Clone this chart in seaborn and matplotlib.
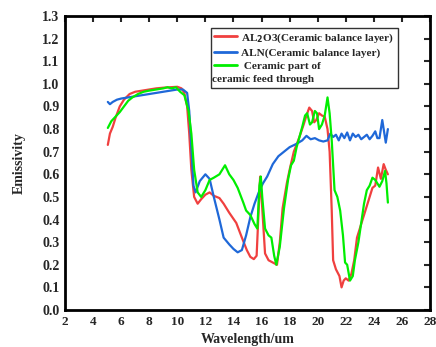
import numpy as np
import pandas as pd
import matplotlib
matplotlib.use("Agg")
import matplotlib.pyplot as plt
import seaborn as sns
from matplotlib.lines import Line2D

# ---- data ----
al2o3_wl = [5.05, 5.2, 5.4, 5.6, 5.9, 6.2, 6.6, 7.0, 7.5, 8.0, 8.5, 9.0, 9.5, 10.0, 10.3, 10.5, 10.7, 10.85,
            11.0, 11.2, 11.45, 11.7, 12.0, 12.3, 12.6, 13.0, 13.3, 13.7, 14.2, 14.6, 14.95, 15.2, 15.45, 15.65,
            15.8, 15.9, 16.05, 16.25, 16.5, 16.8, 17.1, 17.3, 17.5, 17.8, 18.0, 18.3, 18.7, 19.0, 19.2, 19.4,
            19.6, 19.75, 19.9, 20.1, 20.3, 20.5, 20.7, 20.85, 21.0, 21.1, 21.3, 21.55, 21.7, 21.85, 22.0, 22.2,
            22.4, 22.6, 22.8, 23.0, 23.3, 23.6, 23.9, 24.1, 24.3, 24.5, 24.7, 24.85, 25.0]
al2o3_em = [0.73, 0.78, 0.81, 0.85, 0.90, 0.93, 0.955, 0.965, 0.97, 0.975, 0.98, 0.983, 0.985, 0.987, 0.98, 0.96,
            0.90, 0.78, 0.62, 0.50, 0.47, 0.49, 0.51, 0.52, 0.505, 0.495, 0.47, 0.43, 0.385, 0.32, 0.265, 0.235,
            0.225, 0.24, 0.45, 0.59, 0.45, 0.25, 0.22, 0.21, 0.20, 0.30, 0.45, 0.56, 0.62, 0.70, 0.765, 0.82, 0.86,
            0.895, 0.88, 0.83, 0.84, 0.87, 0.86, 0.855, 0.80, 0.70, 0.44, 0.22, 0.18, 0.15, 0.10, 0.13, 0.14, 0.13,
            0.16, 0.22, 0.32, 0.36, 0.42, 0.48, 0.54, 0.55, 0.63, 0.58, 0.645, 0.62, 0.60]

aln_wl = [5.05, 5.2, 5.4, 5.7, 6.0, 6.5, 7.0, 7.5, 8.0, 8.5, 9.0, 9.5, 10.0, 10.4, 10.7, 10.85, 11.0, 11.15, 11.3,
          11.6, 12.0, 12.3, 12.6, 13.0, 13.3, 13.7, 14.0, 14.3, 14.6, 14.9, 15.2, 15.5, 15.8, 16.1, 16.4, 16.8,
          17.2, 17.6, 18.0, 18.5, 18.9, 19.2, 19.5, 19.8, 20.1, 20.4, 20.7, 20.9, 21.1, 21.3, 21.5, 21.7, 21.9,
          22.1, 22.3, 22.5, 22.7, 22.9, 23.1, 23.3, 23.5, 23.7, 23.9, 24.1, 24.25, 24.4, 24.6, 24.75, 24.85, 25.0]
aln_em = [0.92, 0.91, 0.92, 0.93, 0.935, 0.94, 0.945, 0.95, 0.955, 0.96, 0.965, 0.97, 0.975, 0.975, 0.96, 0.88,
          0.72, 0.55, 0.52, 0.57, 0.60, 0.58, 0.50, 0.40, 0.32, 0.29, 0.27, 0.255, 0.265, 0.33, 0.41, 0.47, 0.52,
          0.56, 0.59, 0.645, 0.68, 0.70, 0.72, 0.735, 0.75, 0.77, 0.755, 0.76, 0.75, 0.745, 0.75, 0.78, 0.765,
          0.775, 0.75, 0.78, 0.76, 0.785, 0.75, 0.78, 0.765, 0.775, 0.755, 0.765, 0.775, 0.755, 0.77, 0.79, 0.76,
          0.76, 0.84, 0.78, 0.74, 0.80]

feed_wl = [5.05, 5.3, 5.6, 5.9, 6.2, 6.5, 6.8, 7.2, 7.6, 8.0, 8.5, 9.0, 9.3, 9.6, 9.9, 10.2, 10.5, 10.8, 11.0,
           11.2, 11.45, 11.7, 12.0, 12.3, 12.6, 13.0, 13.4, 13.7, 14.0, 14.3, 14.7, 14.9, 15.2, 15.5, 15.7, 15.85,
           15.95, 16.05, 16.25, 16.5, 16.7, 16.9, 17.05, 17.3, 17.6, 17.9, 18.1, 18.3, 18.5, 18.7, 18.9, 19.1,
           19.25, 19.45, 19.6, 19.8, 19.95, 20.1, 20.3, 20.5, 20.7, 20.85, 21.0, 21.2, 21.4, 21.6, 21.8, 21.95,
           22.1, 22.3, 22.5, 22.65, 22.9, 23.1, 23.3, 23.5, 23.7, 23.9, 24.1, 24.4, 24.6, 24.8, 24.9, 25.0]
feed_em = [0.805, 0.835, 0.855, 0.875, 0.90, 0.925, 0.94, 0.955, 0.965, 0.97, 0.975, 0.98, 0.985, 0.98, 0.985,
           0.965, 0.95, 0.88, 0.78, 0.62, 0.52, 0.50, 0.53, 0.575, 0.585, 0.60, 0.64, 0.60, 0.575, 0.54, 0.475,
           0.44, 0.42, 0.38, 0.36, 0.55, 0.59, 0.50, 0.36, 0.33, 0.32, 0.24, 0.20, 0.28, 0.45, 0.58, 0.64, 0.66,
           0.72, 0.765, 0.81, 0.86, 0.87, 0.82, 0.83, 0.88, 0.87, 0.80, 0.82, 0.86, 0.94, 0.87, 0.75, 0.53, 0.50,
           0.44, 0.33, 0.21, 0.20, 0.13, 0.15, 0.22, 0.30, 0.385, 0.47, 0.53, 0.55, 0.585, 0.575, 0.545, 0.57,
           0.615, 0.56, 0.475]

series_names = ["AL2O3", "ALN", "Feed"]
series_colors = ["#f0403f", "#1f68d8", "#00ee00"]
x_ticks = list(range(2, 29, 2))
y_ticks = [round(v * 0.1, 1) for v in range(0, 14)]

df = pd.concat([
    pd.DataFrame({"wl": al2o3_wl, "em": al2o3_em, "s": "AL2O3"}),
    pd.DataFrame({"wl": aln_wl, "em": aln_em, "s": "ALN"}),
    pd.DataFrame({"wl": feed_wl, "em": feed_em, "s": "Feed"}),
], ignore_index=True)

sns.set_style("white")
plt.rcParams["font.family"] = ["Liberation Serif", "DejaVu Serif"]
plt.rcParams["font.weight"] = "bold"

fig = plt.figure(figsize=(4.36, 3.47), dpi=100)
ax = fig.add_axes([65 / 436, 1 - 310 / 347, 365 / 436, 294 / 347])

palette = dict(zip(series_names, series_colors))
sns.lineplot(data=df, x="wl", y="em", hue="s", palette=palette, estimator=None,
             sort=False, linewidth=1.6, legend=False, ax=ax)

ax.set_xlim(2, 28)
ax.set_ylim(0, 1.3)
ax.set_xticks(x_ticks)
ax.set_yticks(y_ticks)
ax.set_xticklabels([str(v) for v in x_ticks])
ax.set_yticklabels([f"{v:.1f}" for v in y_ticks])
ax.tick_params(direction="in", top=True, right=True, length=4, width=1.5, pad=4)
for lab in ax.get_xticklabels():
    lab.set_fontweight("bold")
    lab.set_fontsize(9.5)
for lab in ax.get_yticklabels():
    lab.set_fontweight("bold")
    lab.set_fontsize(10)

for sp in ax.spines.values():
    sp.set_linewidth(2)
    sp.set_color("black")

ax.set_xlabel("Wavelength/um", fontsize=10, fontweight="bold", labelpad=4)
ax.set_ylabel("Emissivity", fontsize=10, fontweight="bold", labelpad=12)

handles = [Line2D([], [], color=c, lw=2) for c in series_colors]
handles.append(Line2D([], [], color="none", lw=0))
labels = ["AL$_\\mathbf{2}$O3(Ceramic balance layer)", "ALN(Ceramic balance layer)",
          " Ceramic part of", " "]
leg = ax.legend(handles, labels, loc="upper left", bbox_to_anchor=(0.40, 0.96),
                prop={"size": 8.1, "weight": "bold"}, frameon=True, fancybox=False,
                handlelength=2.0, handletextpad=0.4, borderpad=0.3, labelspacing=0.3,
                borderaxespad=0)
leg.get_frame().set_edgecolor("black")
leg.get_frame().set_linewidth(1)
fig.canvas.draw()
bb = leg.get_window_extent().transformed(ax.transAxes.inverted())
ax.text(bb.x0 + 0.004, bb.y0 + 0.012, "ceramic feed through", transform=ax.transAxes,
        fontsize=8.1, fontweight="bold", ha="left", va="bottom", zorder=10)

fig.savefig("out.png", dpi=100)
